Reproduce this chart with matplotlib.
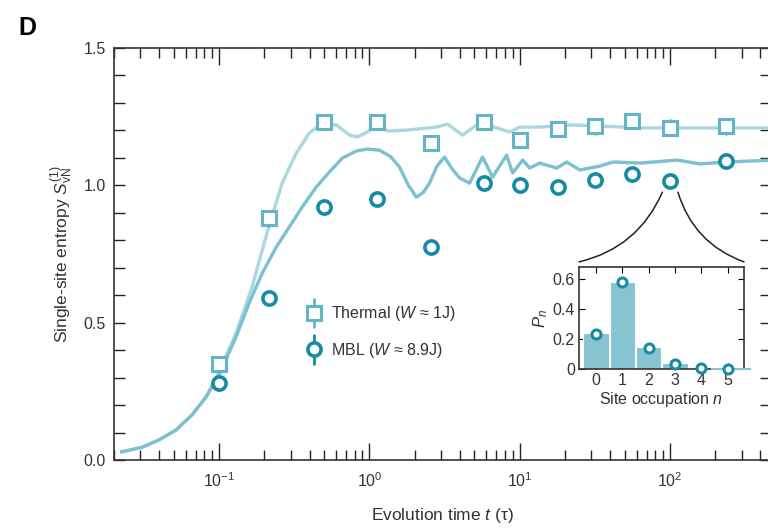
import numpy as np
import matplotlib.pyplot as plt
from matplotlib.patches import ConnectionPatch
from matplotlib.legend_handler import HandlerErrorbar
from matplotlib.container import ErrorbarContainer
from matplotlib.ticker import LogLocator, MultipleLocator, NullFormatter

plt.rcParams['font.family'] = ['Liberation Sans', 'DejaVu Sans']
plt.rcParams['mathtext.fontset'] = 'custom'
plt.rcParams['mathtext.rm'] = 'Liberation Sans'
plt.rcParams['mathtext.it'] = 'Liberation Sans:italic'
plt.rcParams['axes.unicode_minus'] = False

# measured single-site entropy
t_pts = [0.1, 0.215, 0.5, 1.13, 2.59, 5.75, 10.0, 17.9, 31.6, 55.8, 100.0, 236.0]
s_thermal = [0.35, 0.88, 1.23, 1.23, 1.155, 1.23, 1.165, 1.205, 1.215, 1.235, 1.21, 1.215]
s_mbl = [0.28, 0.59, 0.92, 0.95, 0.775, 1.01, 1.00, 0.995, 1.02, 1.04, 1.015, 1.09]
err_thermal = 0.03
err_mbl = 0.015

# numerics (log10 t, S)
logt_th = [-1.647, -1.513, -1.4, -1.287, -1.18, -1.087, -1.0, -0.887, -0.78, -0.713,
           -0.653, -0.58, -0.487, -0.4, -0.313, -0.22, -0.133, -0.08, -0.013, 0.047,
           0.12, 0.247, 0.447, 0.52, 0.62, 0.733, 0.847, 0.933, 1.0, 1.133,
           1.353, 1.533, 1.8, 2.2, 2.7]
s_th_line = [0.03, 0.046, 0.073, 0.109, 0.164, 0.229, 0.32, 0.462, 0.63, 0.764,
             0.88, 1.008, 1.117, 1.19, 1.227, 1.22, 1.183, 1.176, 1.194, 1.222,
             1.198, 1.201, 1.212, 1.223, 1.183, 1.227, 1.209, 1.194, 1.212, 1.212,
             1.22, 1.216, 1.209, 1.209, 1.209]
logt_mbl = [-1.647, -1.513, -1.4, -1.287, -1.18, -1.087, -1.0, -0.887, -0.8, -0.713,
            -0.62, -0.533, -0.447, -0.353, -0.267, -0.18, -0.087, -0.013, 0.067, 0.14,
            0.2, 0.26, 0.313, 0.36, 0.4, 0.45, 0.5, 0.55, 0.6, 0.667,
            0.753, 0.82, 0.913, 0.953, 1.02, 1.067, 1.133, 1.247, 1.313, 1.4,
            1.533, 1.62, 1.8, 2.047, 2.2, 2.38, 2.7]
s_mbl_line = [0.03, 0.046, 0.073, 0.109, 0.164, 0.229, 0.31, 0.448, 0.571, 0.68,
              0.775, 0.848, 0.921, 0.994, 1.048, 1.099, 1.125, 1.132, 1.128, 1.105,
              1.067, 1.0, 0.957, 0.975, 1.008, 1.07, 1.103, 1.06, 1.027, 1.008,
              1.103, 1.03, 1.11, 1.045, 1.092, 1.063, 1.081, 1.063, 1.085, 1.056,
              1.07, 1.085, 1.081, 1.092, 1.078, 1.085, 1.092]

# occupation distribution at t = 100
n_sites = [0, 1, 2, 3, 4, 5]
p_theory = [0.24, 0.58, 0.145, 0.04, 0.01, 0.003]
p_meas = [0.235, 0.58, 0.14, 0.035, 0.005, 0.0]

c_sq = '#62b4c6'
c_circ = '#168ba3'
c_th_line = '#abd7e1'
c_mbl_line = '#7dc0cf'
c_bar = '#86c4d2'
c_txt = '#333333'

fig = plt.figure(figsize=(7.68, 5.29), dpi=100)
ax = fig.add_axes([114 / 768, 69 / 529, 657 / 768, 412 / 529])

ax.plot(10 ** np.array(logt_th), s_th_line, color=c_th_line, lw=2.4, zorder=2,
        solid_joinstyle='round')
ax.plot(10 ** np.array(logt_mbl), s_mbl_line, color=c_mbl_line, lw=2.4, zorder=2,
        solid_joinstyle='round')

h_th = ax.errorbar(t_pts, s_thermal, yerr=err_thermal, fmt='s', ms=10, mfc='white',
                   mec=c_sq, mew=2.2, ecolor=c_sq, elinewidth=2, capsize=0, zorder=4)
h_mbl = ax.errorbar(t_pts, s_mbl, yerr=err_mbl, fmt='o', ms=9.5, mfc='white',
                    mec=c_circ, mew=2.6, ecolor=c_circ, elinewidth=2, capsize=0, zorder=4)

ax.set_xscale('log')
ax.set_xlim(0.02, 470)
ax.set_ylim(0, 1.5)
ax.xaxis.set_major_locator(LogLocator(base=10, numticks=10))
ax.xaxis.set_minor_locator(LogLocator(base=10, subs=np.arange(2, 10), numticks=10))
ax.xaxis.set_minor_formatter(NullFormatter())
ax.yaxis.set_minor_locator(MultipleLocator(0.1))
ax.set_yticks([0, 0.5, 1.0, 1.5])
ax.set_yticklabels(['0.0', '0.5', '1.0', '1.5'])
ax.tick_params(which='both', direction='in', top=True, right=True, labelsize=11.5,
               colors='#222222', labelcolor=c_txt, width=1)
ax.tick_params(axis='x', which='major', length=12, pad=8)
ax.tick_params(axis='x', which='minor', length=7)
ax.tick_params(axis='y', which='both', length=8, pad=6)
for sp in ax.spines.values():
    sp.set_linewidth(1.2)
    sp.set_color(c_txt)

ax.set_xlabel(r'Evolution time $t$ (τ)', fontsize=12.5, color=c_txt, labelpad=12)
ax.set_ylabel(r'Single-site entropy $S_{\mathrm{vN}}^{(1)}$', fontsize=12.5,
              color=c_txt, labelpad=6)

ax.legend([h_th, h_mbl], [r'Thermal ($W$ ≈ 1J)', r'MBL ($W$ ≈ 8.9J)'],
          handler_map={ErrorbarContainer: HandlerErrorbar(yerr_size=0.95)},
          loc='center left', bbox_to_anchor=(0.27, 0.31), frameon=False,
          fontsize=11.5, handlelength=1.0, handletextpad=0.6, labelspacing=1.1,
          labelcolor=c_txt)

fig.text(18 / 768, 1 - 28 / 529, 'D', fontsize=18, fontweight='bold', va='center')

# inset: site occupation distribution
axi = fig.add_axes([579 / 768, 160 / 529, 165 / 768, 102 / 529])
axi.bar(n_sites, p_theory, width=0.96, color=c_bar, edgecolor='white', lw=0.8, zorder=2)
axi.plot(n_sites, p_meas, 'o', ms=6.5, mfc='white', mec=c_circ, mew=2.2, zorder=4,
         clip_on=False)
axi.plot([4.4, 5.85], [0.0, 0.0], color=c_bar, lw=1.5, clip_on=False, zorder=3)
axi.set_xlim(-0.65, 5.62)
axi.set_ylim(0, 0.68)
axi.set_xticks(n_sites)
axi.set_yticks([0, 0.2, 0.4, 0.6])
axi.set_yticklabels(['0', '0.2', '0.4', '0.6'])
axi.tick_params(direction='in', top=True, right=True, length=4, labelsize=11.5,
                labelcolor=c_txt, pad=3)
for sp in axi.spines.values():
    sp.set_linewidth(1.2)
    sp.set_color(c_txt)
axi.set_xlabel(r'Site occupation $n$', fontsize=11.5, color=c_txt, labelpad=1)
axi.set_ylabel(r'$P_n$', fontsize=12, color=c_txt, labelpad=2)

# zoom connectors from the t = 100 point to the inset corners
for t0, xa, rad in [(89, 0.0, -0.25), (113, 1.0, 0.25)]:
    con = ConnectionPatch(xyA=(t0, 0.975), coordsA=ax.transData,
                          xyB=(xa, 1.05), coordsB=axi.transAxes,
                          connectionstyle=f'arc3,rad={rad}', color='#222222', lw=1.1)
    fig.add_artist(con)

fig.savefig('out.png', dpi=100)
